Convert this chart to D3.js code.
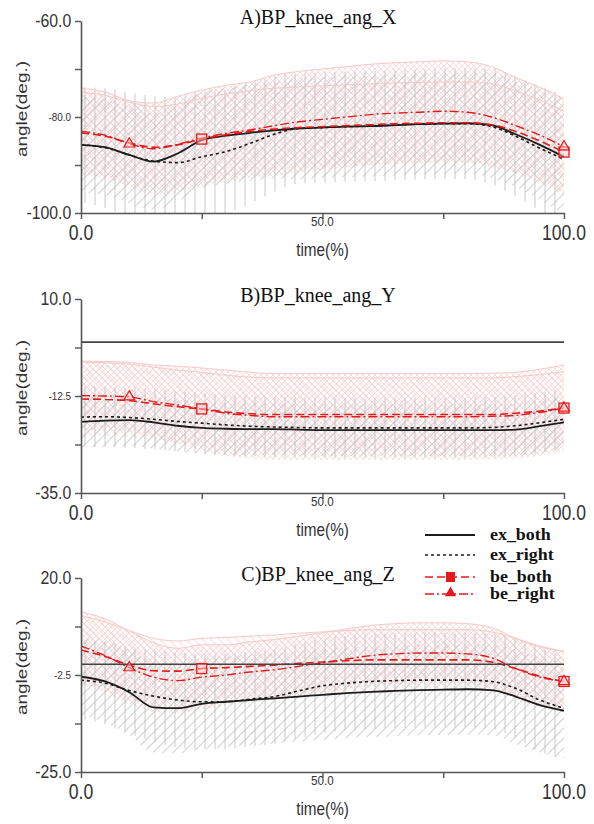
<!DOCTYPE html>
<html>
<head>
<meta charset="utf-8">
<script src="https://cdn.jsdelivr.net/npm/d3@7"></script>
<style>
  body { margin: 0; background: #fff; }
</style>
</head>
<body>
<div id="chart"></div>
<script>
// time axis samples (%)
var timePct = [0, 5, 10, 15, 20, 25, 30, 35, 40, 45, 50, 55, 60, 65, 70, 75, 80, 85, 90, 95, 100];

// A) knee angle X
var aExBoth  = [-85.8, -86.3, -87.9, -89.3, -87.6, -84.8, -83.9, -83.3, -82.8, -82.4, -82.2, -82.0, -81.9, -81.7, -81.5, -81.4, -81.3, -81.7, -83.6, -85.8, -88.3];
var aExRight = [-85.8, -86.4, -87.9, -89.2, -89.5, -88.3, -87.2, -85.5, -83.6, -82.4, -82.2, -82.0, -81.9, -81.7, -81.5, -81.4, -81.4, -82.0, -84.0, -86.5, -88.8];
var aBeBoth  = [-83.3, -84.0, -85.4, -86.3, -85.8, -84.6, -83.7, -83.0, -82.5, -82.2, -82.0, -81.8, -81.6, -81.4, -81.3, -81.2, -81.2, -81.6, -83.0, -85.0, -87.3];
var aBeRight = [-83.0, -83.8, -85.6, -86.6, -85.7, -84.4, -83.4, -82.7, -81.8, -81.0, -80.5, -80.0, -79.5, -79.2, -79.0, -78.8, -79.0, -80.0, -81.8, -83.8, -86.2];
var aSdExBoth  = [10, 10, 10, 10, 10, 10, 10, 10, 10, 10.5, 10.5, 10.5, 10.5, 10.5, 10.5, 10.5, 10.5, 11, 11, 11.5, 12];
var aSdExRight = [12, 12.5, 13, 13.5, 13.5, 13.5, 13, 12.5, 12, 11.5, 11.5, 11.5, 11.5, 11.5, 11.5, 11.5, 11.5, 12, 12.5, 13, 13.5];
var aSdBeBoth  = [8.5, 8.5, 8.5, 8.5, 8.5, 8.5, 8.5, 8.5, 8.5, 8.5, 8.5, 8.5, 8.5, 8.5, 8.5, 8.5, 8.5, 8.5, 8.5, 8.5, 8.5];
var aSdBeRight = [9, 9, 9, 9.5, 10, 10, 10, 10, 10.5, 10.5, 10.5, 10.5, 10.5, 10.5, 10.5, 10.5, 10.5, 10.5, 10, 10, 10];

// B) knee angle Y
var bExBoth  = [-18.5, -18.2, -18.1, -18.6, -19.4, -19.9, -20.1, -20.2, -20.2, -20.3, -20.4, -20.4, -20.4, -20.4, -20.4, -20.4, -20.4, -20.4, -20.3, -19.5, -18.6];
var bExRight = [-17.4, -17.3, -17.5, -17.9, -18.4, -18.8, -19.2, -19.5, -19.7, -19.8, -19.9, -19.9, -19.9, -19.9, -19.9, -19.9, -19.9, -19.8, -19.4, -18.7, -17.9];
var bBeBoth  = [-13.2, -13.3, -13.6, -14.3, -15.0, -15.5, -16.2, -16.6, -16.8, -16.8, -16.8, -16.8, -16.8, -16.8, -16.8, -16.8, -16.8, -16.8, -16.5, -16.0, -15.3];
var bBeRight = [-12.4, -12.5, -12.7, -13.8, -14.6, -15.5, -16.5, -17.0, -17.3, -17.3, -17.3, -17.3, -17.3, -17.3, -17.3, -17.3, -17.3, -17.2, -17.0, -16.3, -15.3];
var bSdExBoth  = [6, 6, 6, 6, 6, 6, 6, 6, 6, 6, 6, 6, 6, 6, 6, 6, 6, 6, 6, 6, 6];
var bSdExRight = [7, 7, 7, 7, 7, 7, 7, 7, 7, 7, 7, 7, 7, 7, 7, 7, 7, 7, 7, 7, 7];
var bSdBeBoth  = [8.5, 8.5, 8.5, 8.5, 8.5, 8.5, 8.5, 8.5, 8.5, 8.5, 8.5, 8.5, 8.5, 8.5, 8.5, 8.5, 8.5, 8.5, 8.5, 8.5, 8.5];
var bSdBeRight = [8, 8, 8, 8.5, 9, 9.5, 10, 10, 10, 10, 10, 10, 10, 10, 10, 10, 10, 10, 10, 10, 10];

// C) knee angle Z
var cExBoth  = [-2.9, -4.0, -6.5, -10.0, -10.2, -9.2, -8.7, -8.3, -7.9, -7.5, -7.1, -6.7, -6.4, -6.2, -6.0, -5.9, -5.8, -6.0, -7.5, -9.5, -10.8];
var cExRight = [-3.7, -4.4, -6.1, -7.4, -8.3, -8.7, -8.7, -8.1, -7.5, -6.2, -5.0, -4.4, -4.0, -3.8, -3.7, -3.7, -3.7, -4.0, -5.6, -8.3, -10.2];
var cBeBoth  = [3.3, 1.8, -0.2, -1.5, -1.6, -1.0, -0.8, -0.5, -0.2, 0.2, 0.5, 0.8, 1.0, 1.0, 1.0, 1.0, 1.0, 0.5, -1.0, -2.8, -4.0];
var cBeRight = [4.2, 2.0, -0.8, -3.0, -3.8, -3.0, -2.5, -1.8, -1.3, -0.5, 0.3, 1.2, 2.0, 2.4, 2.6, 2.6, 2.4, 1.5, -1.0, -3.0, -4.0];
var cSdExBoth  = [9, 9.5, 10, 10.5, 10.5, 10.5, 10.5, 10.5, 10.5, 10.5, 10.5, 10.5, 10.5, 10.5, 10.5, 10.5, 10.5, 10.5, 11, 11, 11];
var cSdExRight = [9, 9.5, 10, 10.5, 11, 11, 11, 11, 11, 11, 11, 11, 11, 11, 11, 11, 11, 11, 11.5, 12, 12];
var cSdBeBoth  = [8, 8, 8, 7.5, 7, 7, 7, 7, 7, 7, 7, 7, 7, 7, 7, 7, 7, 7, 7, 7, 7];
var cSdBeRight = [8, 8.5, 8.5, 8, 7.5, 7.5, 7, 7, 7, 7, 7, 7, 7, 7, 7, 7, 7, 7, 7, 7, 7];

// axis ticks and labels
var xTicks = [0, 25, 50, 75, 100];
var xTickLabels = ["0.0", "", "50.0", "", "100.0"];
var yLabelsA = ["-100.0", "", "-80.0", "", "-60.0"];
var yLabelsB = ["-35.0", "", "-12.5", "", "10.0"];
var yLabelsC = ["-25.0", "", "-2.5", "", "20.0"];
var seriesNames = ["ex_both", "ex_right", "be_both", "be_right"];

var panels = [
  { key: "A", title: "A)BP_knee_ang_X", domain: [-100, -60], top: 21, bottom: 213, labels: yLabelsA,
    series: [aExBoth, aExRight, aBeBoth, aBeRight], sd: [aSdExBoth, aSdExRight, aSdBeBoth, aSdBeRight], zero: false },
  { key: "B", title: "B)BP_knee_ang_Y", domain: [-35, 10], top: 299, bottom: 493, labels: yLabelsB,
    series: [bExBoth, bExRight, bBeBoth, bBeRight], sd: [bSdExBoth, bSdExRight, bSdBeBoth, bSdBeRight], zero: true },
  { key: "C", title: "C)BP_knee_ang_Z", domain: [-25, 20], top: 578, bottom: 772, labels: yLabelsC,
    series: [cExBoth, cExRight, cBeBoth, cBeRight], sd: [cSdExBoth, cSdExRight, cSdBeBoth, cSdBeRight], zero: true }
];

var svgWidth = 594, svgHeight = 824;
var left = 81, right = 564;
var sans = "Arial, 'Liberation Sans', sans-serif";
var serif = "'Times New Roman', 'Liberation Serif', serif";
var red = "#e31a1c";
var black = "#1c1c1c";

var svg = d3.select("#chart")
  .append("svg")
  .attr("width", svgWidth)
  .attr("height", svgHeight);

var defs = svg.append("defs");

// hatch patterns for the sd bands
function makeHatch(id, size, angle, color, width) {
  var p = defs.append("pattern")
    .attr("id", id)
    .attr("patternUnits", "userSpaceOnUse")
    .attr("width", size)
    .attr("height", size)
    .attr("patternTransform", `rotate(${angle})`);
  p.append("line")
    .attr("x1", size / 2).attr("y1", 0)
    .attr("x2", size / 2).attr("y2", size)
    .attr("stroke", color)
    .attr("stroke-width", width);
}
makeHatch("fillExBoth", 7, 45, "#c9c9c9", 0.9);
makeHatch("fillExRight", 10, 0, "#c2c2c2", 0.9);
makeHatch("fillBeBoth", 6, -45, "#f8cdcd", 0.8);

var cross = defs.append("pattern")
  .attr("id", "fillBeRight")
  .attr("patternUnits", "userSpaceOnUse")
  .attr("width", 6)
  .attr("height", 6);
cross.append("path")
  .attr("d", "M0,0L6,6M6,0L0,6")
  .attr("stroke", "#f6c4c4")
  .attr("stroke-width", 0.6)
  .attr("fill", "none");

var bandFills = ["url(#fillExBoth)", "url(#fillExRight)", "url(#fillBeBoth)", "url(#fillBeRight)"];
var lineStyles = [
  { color: black, dash: null, width: 1.8 },
  { color: black, dash: "3,3", width: 1.6 },
  { color: red, dash: "8,4", width: 1.6 },
  { color: red, dash: "9,3,2,3", width: 1.4 }
];

var x = d3.scaleLinear().domain([0, 100]).range([left, right]);

// text helper, sx squeezes the glyphs horizontally like the source image
function label(parent, px, py, txt, opt) {
  var tr = `translate(${px},${py})`;
  if (opt.rotate) tr += ` rotate(${opt.rotate})`;
  tr += ` scale(${opt.sx || 1},${opt.sy || 1})`;
  var t = parent.append("text")
    .attr("transform", tr)
    .attr("text-anchor", opt.anchor || "middle")
    .attr("font-family", opt.family || sans)
    .attr("font-size", opt.size)
    .attr("fill", opt.fill || "#333")
    .text(txt);
  if (opt.weight) t.attr("font-weight", opt.weight);
  return t;
}

panels.forEach(function(p) {
  var y = d3.scaleLinear().domain(p.domain).range([p.bottom, p.top]);
  var g = svg.append("g");

  g.append("clipPath")
    .attr("id", "clip" + p.key)
    .append("rect")
    .attr("x", left)
    .attr("y", p.top)
    .attr("width", right - left)
    .attr("height", p.bottom - p.top);

  var plot = g.append("g").attr("clip-path", `url(#clip${p.key})`);

  // sd bands, be first so the grey ex bars sit on top
  [2, 3, 0, 1].forEach(function(k) {
    var mean = p.series[k], sd = p.sd[k];
    var area = d3.area()
      .x((d, i) => x(timePct[i]))
      .y0((d, i) => y(mean[i] - sd[i]))
      .y1((d, i) => y(mean[i] + sd[i]))
      .curve(d3.curveMonotoneX);
    plot.append("path")
      .datum(mean)
      .attr("d", area)
      .attr("fill", bandFills[k])
      .attr("stroke", "none");
  });

  // faint upper edges of the be bands
  [2, 3].forEach(function(k) {
    var mean = p.series[k], sd = p.sd[k];
    var edge = d3.line()
      .x((d, i) => x(timePct[i]))
      .y((d, i) => y(mean[i] + sd[i]))
      .curve(d3.curveMonotoneX);
    plot.append("path")
      .datum(mean)
      .attr("d", edge)
      .attr("fill", "none")
      .attr("stroke", "#f7c8c8")
      .attr("stroke-width", 1);
  });

  // zero line
  if (p.zero) {
    g.append("line")
      .attr("x1", left).attr("x2", right)
      .attr("y1", y(0)).attr("y2", y(0))
      .attr("stroke", "#444")
      .attr("stroke-width", 1.6);
  }

  // mean curves
  [1, 0, 2, 3].forEach(function(k) {
    var st = lineStyles[k];
    var line = d3.line()
      .x((d, i) => x(timePct[i]))
      .y(d => y(d))
      .curve(d3.curveMonotoneX);
    var path = plot.append("path")
      .datum(p.series[k])
      .attr("d", line)
      .attr("fill", "none")
      .attr("stroke", st.color)
      .attr("stroke-width", st.width);
    if (st.dash) path.attr("stroke-dasharray", st.dash);
  });

  // markers: squares on be_both, triangles on be_right
  var sqIdx = [5, 20], triIdx = [2, 20];
  sqIdx.forEach(function(i) {
    g.append("rect")
      .attr("x", x(timePct[i]) - 5)
      .attr("y", y(p.series[2][i]) - 5)
      .attr("width", 10)
      .attr("height", 10)
      .attr("fill", "rgba(255,200,200,0.5)")
      .attr("stroke", red)
      .attr("stroke-width", 1.3);
  });
  triIdx.forEach(function(i) {
    g.append("path")
      .attr("transform", `translate(${x(timePct[i])},${y(p.series[3][i])})`)
      .attr("d", d3.symbol().type(d3.symbolTriangle).size(50))
      .attr("fill", "rgba(255,200,200,0.5)")
      .attr("stroke", red)
      .attr("stroke-width", 1.2);
  });

  // axes
  var yTicks = d3.range(5).map(i => p.domain[0] + i * (p.domain[1] - p.domain[0]) / 4);
  var yAxis = d3.axisLeft(y)
    .tickValues(yTicks)
    .tickSize(6)
    .tickSizeOuter(0)
    .tickPadding(5)
    .tickFormat((d, i) => p.labels[i]);
  var yg = g.append("g")
    .attr("transform", `translate(${left},0)`)
    .call(yAxis);

  var xAxis = d3.axisBottom(x)
    .tickValues(xTicks)
    .tickSize(6)
    .tickSizeOuter(0)
    .tickFormat(() => "");
  var xg = g.append("g")
    .attr("transform", `translate(0,${p.bottom})`)
    .call(xAxis);

  [yg, xg].forEach(function(ax) {
    ax.select(".domain").attr("stroke", "#555").attr("stroke-width", 1.6);
    ax.selectAll(".tick line").attr("stroke", "#555").attr("stroke-width", 1.4);
  });

  yg.selectAll(".tick text")
    .attr("font-family", sans)
    .attr("fill", "#333")
    .attr("font-size", (d, i) => (i === 2 ? 11 : 18))
    .attr("transform", (d, i) => (i === 2 ? "scale(0.9,1)" : "scale(0.88,1)"));

  // x tick labels: large at the ends, small in the middle
  xTicks.forEach(function(t, i) {
    if (!xTickLabels[i]) return;
    if (i === 2) {
      label(g, x(t), p.bottom + 13, xTickLabels[i], { size: 13, sx: 0.9 });
    } else {
      label(g, x(t), p.bottom + 27, xTickLabels[i], { size: 22, sx: 0.8 });
    }
  });

  label(g, x(50), p.bottom + 43, "time(%)", { size: 18, sx: 0.85 });
  label(g, 27, (p.top + p.bottom) / 2 - 8, "angle(deg.)", { size: 14, rotate: -90, sx: 1.36 });
  label(g, 318, p.top + 3, p.title, { size: 20, family: serif, fill: "#111" });
});

// legend
var legendRows = [535, 555, 577, 594];
var legend = svg.append("g");
seriesNames.forEach(function(name, k) {
  var st = lineStyles[k];
  var ly = legendRows[k];
  var ln = legend.append("line")
    .attr("x1", 425).attr("x2", 475)
    .attr("y1", ly).attr("y2", ly)
    .attr("stroke", st.color)
    .attr("stroke-width", st.width);
  if (st.dash) ln.attr("stroke-dasharray", st.dash);
  if (k === 2) {
    legend.append("rect")
      .attr("x", 446).attr("y", ly - 5)
      .attr("width", 9).attr("height", 10)
      .attr("fill", red);
  }
  if (k === 3) {
    legend.append("path")
      .attr("transform", `translate(450.5,${ly - 1})`)
      .attr("d", d3.symbol().type(d3.symbolTriangle).size(55))
      .attr("fill", red);
  }
  label(legend, 490, ly + 5, name, { size: 16, sx: 1.12, family: serif, weight: "bold", anchor: "start", fill: "#111" });
});
</script>
</body>
</html>
